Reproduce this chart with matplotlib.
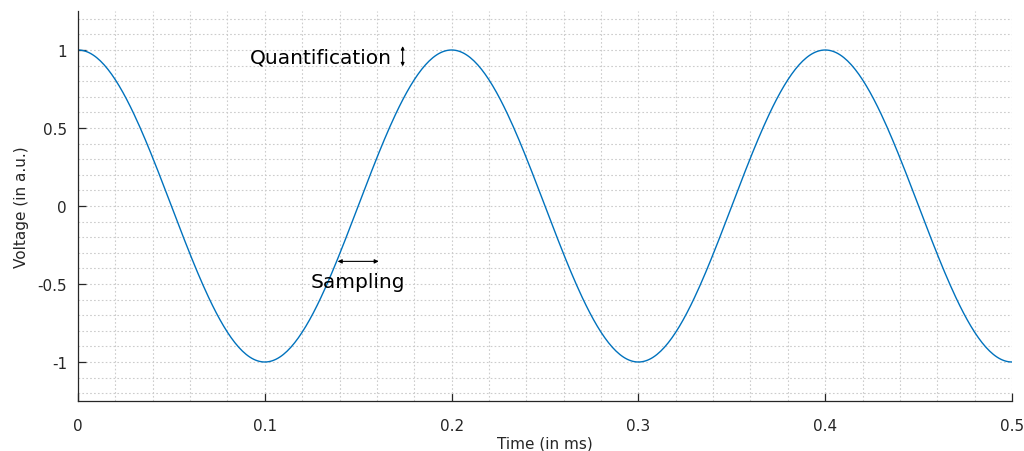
"""Cosine test signal with sampling / quantification annotations (Octave-like look)."""

import matplotlib
matplotlib.use("Agg")
import matplotlib.pyplot as plt
from matplotlib.ticker import FixedLocator, FixedFormatter, MultipleLocator
import numpy as np

# signal parameters
AMPLITUDE = 1.0          # a.u.
PERIOD_MS = 0.2          # one full period every 0.2 ms
T_END_MS = 0.5
N_SAMPLES = 501

X_TICKS = [0, 0.1, 0.2, 0.3, 0.4, 0.5]
X_LABELS = ["0", "0.1", "0.2", "0.3", "0.4", "0.5"]
Y_TICKS = [-1, -0.5, 0, 0.5, 1]
Y_LABELS = ["-1", "-0.5", "0", "0.5", "1"]

LINE_COLOR = "#0072BD"

t = np.linspace(0.0, T_END_MS, N_SAMPLES)
v = AMPLITUDE * np.cos(2 * np.pi * t / PERIOD_MS)

fig = plt.figure(figsize=(10.24, 4.52), dpi=100)
ax = fig.add_axes([78 / 1024, 50 / 452, 934 / 1024, 390 / 452])

ax.plot(t, v, color=LINE_COLOR, lw=1.0)

ax.set_xlim(0, 0.5)
ax.set_ylim(-1.25, 1.25)
ax.xaxis.set_major_locator(FixedLocator(X_TICKS))
ax.xaxis.set_major_formatter(FixedFormatter(X_LABELS))
ax.yaxis.set_major_locator(FixedLocator(Y_TICKS))
ax.yaxis.set_major_formatter(FixedFormatter(Y_LABELS))
ax.xaxis.set_minor_locator(MultipleLocator(0.02))
ax.yaxis.set_minor_locator(MultipleLocator(0.1))

ax.grid(True, which="both", color="#cccccc", ls=(0, (1.5, 2)), lw=0.8)
ax.set_axisbelow(True)
ax.tick_params(which="major", direction="in", length=6, width=0.9,
               labelsize=11, colors="#262626", pad=12)
ax.tick_params(which="minor", length=0)
ax.tick_params(axis="y", pad=8)

for side in ("top", "right"):
    ax.spines[side].set_visible(False)
for side in ("left", "bottom"):
    ax.spines[side].set_color("#262626")
    ax.spines[side].set_linewidth(0.9)

ax.set_xlabel("Time (in ms)", fontsize=11, color="#262626", labelpad=2)
ax.set_ylabel("Voltage (in a.u.)", fontsize=11, color="#262626", labelpad=6)

# annotations
ax.text(0.168, 0.955, "Quantification", fontsize=14.5, ha="right", va="center")
ax.annotate("", xy=(0.1738, 1.025), xytext=(0.1738, 0.895),
            arrowprops=dict(arrowstyle="<|-|>", color="black", lw=0.8,
                            mutation_scale=5, shrinkA=0, shrinkB=0))
ax.annotate("", xy=(0.139, -0.355), xytext=(0.161, -0.355),
            arrowprops=dict(arrowstyle="<|-|>", color="black", lw=0.8,
                            mutation_scale=6, shrinkA=0, shrinkB=0))
ax.text(0.15, -0.484, "Sampling", fontsize=14.5, ha="center", va="center")

fig.savefig("out.png", dpi=100)
